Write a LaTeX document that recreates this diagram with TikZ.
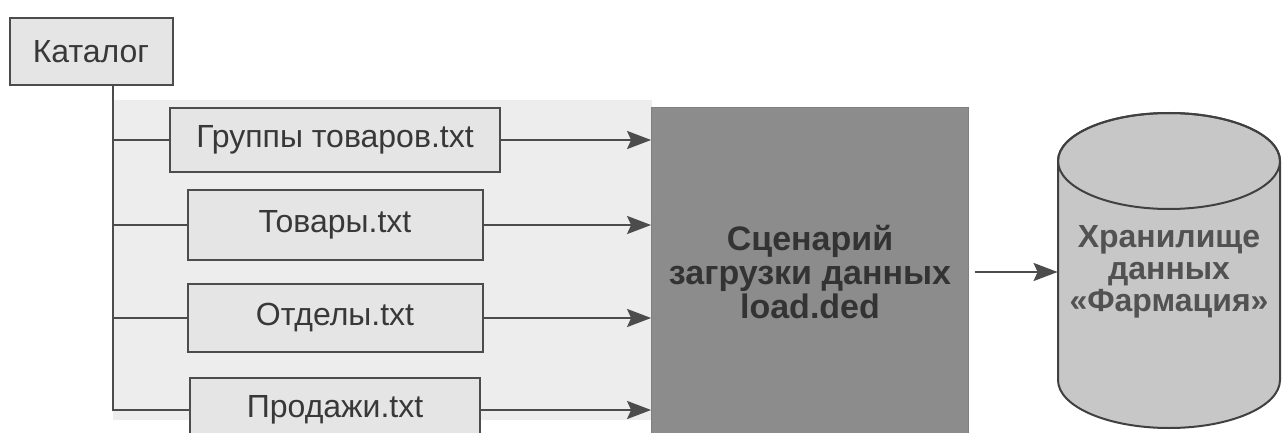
\documentclass[tikz,border=0pt]{standalone}
\usepackage{fontspec}
\setmainfont{Liberation Sans}
\usetikzlibrary{positioning,arrows.meta,backgrounds}
\tikzset{
  filebox/.style={rectangle, draw=black!70, line width=1pt, fill=black!10, text=black!78,
                  minimum height=32pt, inner sep=2pt, font=\fontsize{16}{18}\selectfont},
  scriptbox/.style={rectangle, draw=black!50, fill=black!45, text=black!80, align=center,
                    font=\bfseries\fontsize{17}{17}\selectfont},
  storetxt/.style={align=center, text=black!68, inner sep=0pt,
                   font=\bfseries\fontsize{16}{16}\selectfont},
  tree/.style={draw=black!70, line width=1.2pt},
  flowarr/.style={-{Stealth[length=12pt,width=9pt,inset=2pt]}, draw=black!70, line width=1.2pt},
}

\begin{document}
\begin{tikzpicture}[x=0.5pt, y=-0.5pt, node distance=8pt]
\clip (0,0) rectangle (1285,433);
% catalog and its files
\node[filebox, minimum width=81.5pt, minimum height=33.5pt] (cat) at (91,52) {Каталог};
\node[filebox, minimum width=165pt] (grp) at (335,140) {Группы товаров.txt};
\node[filebox, minimum width=147.5pt, minimum height=35pt, below=8pt of grp] (tov) {Товары.txt};
\node[filebox, minimum width=147.5pt, minimum height=34pt, below=11pt of tov] (otd) {Отделы.txt};
\node[filebox, minimum width=145pt, below=12pt of otd] (prd) {Продажи.txt};
\coordinate (trunk) at (113,85);
\foreach \f in {grp,tov,otd,prd}\draw[tree] (cat.south -| trunk) |- (\f.west);
% loading script
\node[scriptbox, minimum width=158.5pt, minimum height=165pt] (scr) at (810,272)
  {Сценарий\\загрузки данных\\load.ded};
\foreach \f in {grp,tov,otd,prd}\draw[flowarr] (\f.east) -- (\f.east -| scr.west);
% data store
\node[storetxt, minimum width=111pt, minimum height=100pt] (store) at (1169,272)
  {Хранилище\\данных\\«Фармация»};
\coordinate (topc) at (1169,161);
\coordinate (botc) at (1169,380);
\begin{scope}[on background layer]
\fill[black!7] (trunk |- 0,100) rectangle (652,420);
\filldraw[fill=black!22, draw=black!75, line width=1pt]
  ([xshift=-55.5pt]topc) -- ([xshift=-55.5pt]botc)
  arc[start angle=180, end angle=360, x radius=55.5pt, y radius=24pt]
  -- ([xshift=55.5pt]topc)
  arc[start angle=0, end angle=180, x radius=55.5pt, y radius=24pt] -- cycle;
\draw[black!75, line width=1pt] (topc) ellipse[x radius=55.5pt, y radius=24pt];
\end{scope}
\draw[flowarr, shorten <=3pt] (scr.east) -- (scr.east -| store.west);
\end{tikzpicture}
\end{document}
